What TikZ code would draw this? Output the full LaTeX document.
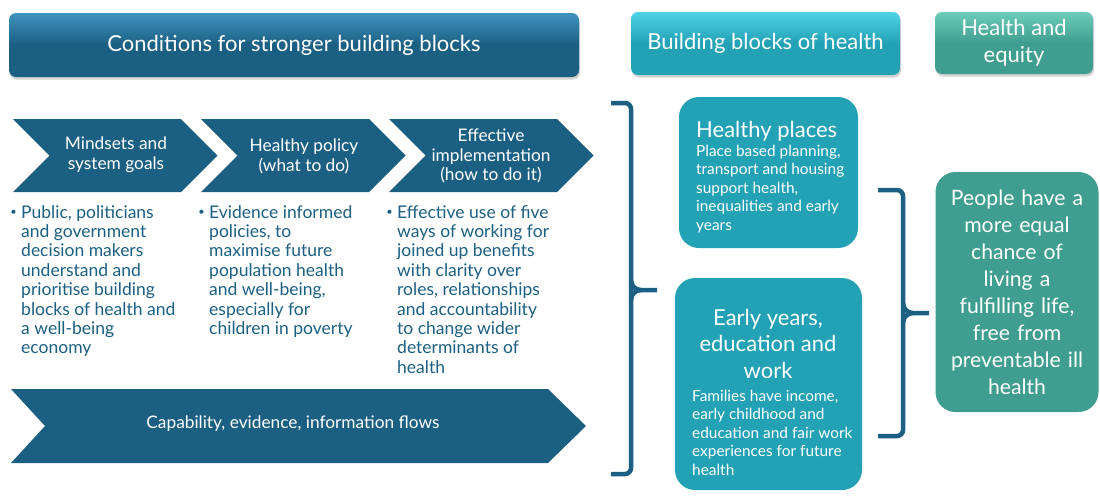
\documentclass[tikz,border=0pt]{standalone}
\usepackage{fontspec}
\setmainfont{Lato}
\usetikzlibrary{shadows}
\definecolor{deepblue}{HTML}{1B5F82}
\definecolor{lightblue}{HTML}{3F93BE}
\definecolor{tealblue}{HTML}{23A1B5}
\definecolor{lightteal}{HTML}{4FD3E6}
\definecolor{seagreen}{HTML}{3F9E8F}
\definecolor{lightgreen}{HTML}{6CCCB9}

\begin{document}
\begin{tikzpicture}[x=1pt,y=-1pt,
  hdr/.style={rounded corners=7pt,text=white,align=center,inner sep=0pt,
    font=\fontsize{22}{27}\selectfont,
    drop shadow={shadow xshift=1pt,shadow yshift=-2.5pt,opacity=.35}},
  chev/.style={fill=deepblue},
  chevtext/.style={text=white,align=center,font=\fontsize{17.3}{19.8}\selectfont},
  bul/.style={text=deepblue,align=left,anchor=north west,inner sep=0pt,
    font=\fontsize{17.5}{19.4}\selectfont,
    label={[text=deepblue,inner sep=0pt,anchor=north east,xshift=-4pt,yshift=-5pt,
      font=\fontsize{11}{19}\selectfont]north west:\textbullet}},
  block/.style={rounded corners=20pt,text=white,inner sep=0pt},
  blocktitle/.style={text=white,inner sep=0pt,align=center,font=\fontsize{22}{26.5}\selectfont},
  blocktext/.style={text=white,inner sep=0pt,align=left,anchor=north west,
    font=\fontsize{15.4}{18.4}\selectfont},
  brace/.style={draw=deepblue,line width=4.5pt,rounded corners=6pt}]
\useasboundingbox (0,0) rectangle (1100,496);

\node[hdr,minimum width=570pt,minimum height=64pt,top color=lightblue,
  bottom color=deepblue,middle color=deepblue] (cond) at (294,45)
  {Conditions for stronger building blocks};
\node[hdr,minimum width=269pt,minimum height=63pt,top color=lightteal,
  bottom color=tealblue,middle color=tealblue] (blocks) at (765.5,43.5)
  {Building blocks of health};
\node[hdr,minimum width=158pt,minimum height=62pt,top color=lightgreen,
  bottom color=seagreen,middle color=seagreen] (equity) at (1014,43)
  {Health and\\equity};

\foreach \x in {13,201,389}
  \fill[chev] (\x,119) -- ++(168,0) -- ++(36.5,36.5) -- ++(-36.5,36.5)
    -- ++(-168,0) -- ++(36.5,-36.5) -- cycle;
\node[chevtext] (mindsets) at (116,155) {Mindsets and\\system goals};
\node[chevtext] (policy) at (304,156) {Healthy policy\\(what to do)};
\node[chevtext] (implement) at (491,156) {Effective\\implementation\\(how to do it)};

\node[bul] (public) at (21,205) {Public, politicians\\and government\\decision makers\\understand and\\prioritise building\\blocks of health and\\a well-being\\economy};
\node[bul] (evidence) at (209,205) {Evidence informed\\policies, to\\maximise future\\population health\\and well-being,\\especially for\\children in poverty};
\node[bul] (effective) at (397,205) {Effective use of five\\ways of working for\\joined up benefits\\with clarity over\\roles, relationships\\and accountability\\to change wider\\determinants of\\health};

\fill[chev] (11,389) -- (548,389) -- (586,426) -- (548,463) -- (11,463)
  -- (45,426) -- cycle;
\node[chevtext] (capability) at (293,424) {Capability, evidence, information flows};

\draw[brace] (611,103) -- (631,103) -- (631,474) -- (611,474);
\draw[brace,rounded corners=0pt] (631,280) to[out=-90,in=180] (641,290) -- (657,290);
\draw[brace,rounded corners=0pt] (631,300) to[out=90,in=180] (641,290);

\node[block,fill=tealblue,minimum width=179pt,minimum height=151pt] (places) at (768.5,172.5) {};
\node[blocktitle,anchor=base west] (placestitle) at (696,137) {Healthy places};
\node[blocktext] (placestext) at (696,145) {Place based planning,\\transport and housing\\support health,\\inequalities and early\\years};

\node[block,fill=tealblue,minimum width=187pt,minimum height=212pt] (early) at (768.5,384) {};
\node[blocktitle,anchor=north] (earlytitle) at (768,309) {Early years,\\education and\\work};
\node[blocktext] (earlytext) at (692,390) {Families have income,\\early childhood and\\education and fair work\\experiences for future\\health};

\draw[brace] (878,190) -- (903,190) -- (903,436) -- (878,436);
\draw[brace,rounded corners=0pt] (903,303) to[out=-90,in=180] (913,313) -- (929,313);
\draw[brace,rounded corners=0pt] (903,323) to[out=90,in=180] (913,313);

\node[block,fill=seagreen,minimum width=163pt,minimum height=240pt,
  text width=160pt,align=center,font=\fontsize{21.2}{27}\selectfont] (people) at (1017,292)
  {People have a\\more equal\\chance of\\living a\\fulfilling life,\\free from\\preventable ill\\health};
\end{tikzpicture}
\end{document}
